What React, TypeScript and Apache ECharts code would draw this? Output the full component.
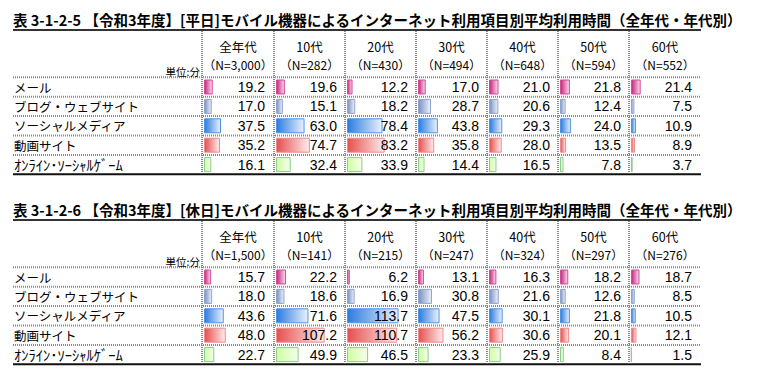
import React, { useEffect, useRef } from "react";
import * as echarts from "echarts";

// ---- data ----
const rowLabels = ["メール", "ブログ・ウェブサイト", "ソーシャルメディア", "動画サイト", "ｵﾝﾗｲﾝ･ｿｰｼｬﾙｹﾞｰﾑ"];
const ageGroups = ["全年代", "10代", "20代", "30代", "40代", "50代", "60代"];
const weekdayN = ["3,000", "282", "430", "494", "648", "594", "552"];
const holidayN = ["1,500", "141", "215", "247", "324", "297", "276"];

const weekdayMail = [19.2, 19.6, 12.2, 17.0, 21.0, 21.8, 21.4];
const weekdayBlog = [17.0, 15.1, 18.2, 28.7, 20.6, 12.4, 7.5];
const weekdaySocial = [37.5, 63.0, 78.4, 43.8, 29.3, 24.0, 10.9];
const weekdayVideo = [35.2, 74.7, 83.2, 35.8, 28.0, 13.5, 8.9];
const weekdayGame = [16.1, 32.4, 33.9, 14.4, 16.5, 7.8, 3.7];

const holidayMail = [15.7, 22.2, 6.2, 13.1, 16.3, 18.2, 18.7];
const holidayBlog = [18.0, 18.6, 16.9, 30.8, 21.6, 12.6, 8.5];
const holidaySocial = [43.6, 71.6, 113.7, 47.5, 30.1, 21.8, 10.5];
const holidayVideo = [48.0, 107.2, 110.7, 56.2, 30.6, 20.1, 12.1];
const holidayGame = [22.7, 49.9, 46.5, 23.3, 25.9, 8.4, 1.5];

const titles = [
  "表 3-1-2-5 【令和3年度】[平日]モバイル機器によるインターネット利用項目別平均利用時間（全年代・年代別）",
  "表 3-1-2-6 【令和3年度】[休日]モバイル機器によるインターネット利用項目別平均利用時間（全年代・年代別）",
];
const unitLabel = "単位:分";

// ---- layout / style ----
const COL_X = [202, 274, 345, 416, 487, 558, 629, 701];
const TABLE_Y = [0, 190];
const LEFT_X = 13;
const HEADER_BOTTOM = 77.3;
const ROW_H = 19.4;
const AXIS_MAX = 150;
const JP = "'Noto Sans CJK JP', 'Noto Sans', sans-serif";
const NUM = "'Liberation Sans', Arial, sans-serif";

const barStyles = [
  { dark: "#C8237F", light: "#F9DDEC", border: "#D24C9A" },
  { dark: "#7A90C2", light: "#EEF2FA", border: "#8FA4CF" },
  { dark: "#2B7BE0", light: "#EAF2FC", border: "#4C94E8" },
  { dark: "#E64F4F", light: "#FDEDED", border: "#F08A8A" },
  { dark: "#CFFFA0", light: "#F6FFEE", border: "#8ACD8A" },
];

export default function App() {
  const ref = useRef<HTMLDivElement>(null);
  useEffect(() => {
    if (!ref.current) return;
    const chart = echarts.init(ref.current, null, { renderer: "svg" });
    const tables = [
      [weekdayMail, weekdayBlog, weekdaySocial, weekdayVideo, weekdayGame],
      [holidayMail, holidayBlog, holidaySocial, holidayVideo, holidayGame],
    ];
    const nLists = [weekdayN, holidayN];

    const grid: any[] = [];
    const xAxis: any[] = [];
    const yAxis: any[] = [];
    const series: any[] = [];
    const graphic: any[] = [];

    tables.forEach((rows, t) => {
      const oy = TABLE_Y[t];
      graphic.push({
        type: "text",
        x: LEFT_X,
        y: oy + 19,
        style: {
          text: titles[t],
          font: `bold 14.5px ${JP}`,
          fill: "#000",
          verticalAlign: "middle",
        },
      });
      graphic.push({
        type: "line",
        shape: { x1: LEFT_X, y1: oy + 30, x2: COL_X[7], y2: oy + 30 },
        style: { stroke: "#333", lineWidth: 2 },
      });
      for (let r = 0; r < 5; r++) {
        const y = oy + HEADER_BOTTOM + r * ROW_H;
        graphic.push({
          type: "line",
          shape: { x1: LEFT_X, y1: y, x2: COL_X[7], y2: y },
          style: { stroke: "#8a8a8a", lineWidth: 2, lineDash: [1, 1] },
        });
      }
      const yb = oy + HEADER_BOTTOM + 5 * ROW_H;
      graphic.push({
        type: "line",
        shape: { x1: LEFT_X, y1: yb, x2: COL_X[7], y2: yb },
        style: { stroke: "#111", lineWidth: 2 },
      });
      for (let c = 0; c < 7; c++) {
        graphic.push({
          type: "line",
          shape: { x1: COL_X[c], y1: oy + 31, x2: COL_X[c], y2: yb - 1 },
          style: { stroke: "#8a8a8a", lineWidth: 2, lineDash: [1, 1] },
        });
      }
      graphic.push({
        type: "text",
        x: COL_X[0] - 2,
        y: oy + 71,
        style: {
          text: unitLabel,
          font: `10.5px ${JP}`,
          lineHeight: 11,
          fill: "#000",
          align: "right",
          verticalAlign: "middle",
        },
      });
      for (let c = 0; c < 7; c++) {
        const cx = (COL_X[c] + COL_X[c + 1]) / 2;
        graphic.push({
          type: "text",
          x: cx,
          y: oy + 46.5,
          style: {
            text: ageGroups[c],
            font: `12.5px ${JP}`,
            lineHeight: 12.5,
            fill: "#000",
            align: "center",
            verticalAlign: "middle",
          },
        });
        graphic.push({
          type: "text",
          x: cx,
          y: oy + 64.6,
          style: {
            text: `（N=${nLists[t][c]}）`,
            font: `12px ${JP}`,
            lineHeight: 12,
            fill: "#000",
            align: "center",
            verticalAlign: "middle",
          },
        });
      }
      rowLabels.forEach((lab, r) => {
        graphic.push({
          type: "text",
          x: LEFT_X + 1,
          y: oy + HEADER_BOTTOM + (r + 0.5) * ROW_H,
          style: {
            text: lab,
            font: r === 4 ? `14.5px ${JP}` : `12.5px ${JP}`,
            fill: "#000",
            verticalAlign: "middle",
          },
        });
      });

      for (let c = 0; c < 7; c++) {
        const gi = t * 7 + c;
        grid.push({
          left: COL_X[c] + 2,
          top: oy + HEADER_BOTTOM,
          width: 68,
          height: 5 * ROW_H,
          containLabel: false,
        });
        xAxis.push({ gridIndex: gi, type: "value", min: 0, max: AXIS_MAX, show: false });
        yAxis.push({
          gridIndex: gi,
          type: "category",
          data: rowLabels,
          inverse: true,
          show: false,
        });
        const vals = rows.map((arr) => arr[c]);
        series.push({
          type: "bar",
          xAxisIndex: gi,
          yAxisIndex: gi,
          barWidth: 15,
          silent: true,
          data: vals.map((v, r) => ({
            value: v,
            itemStyle: {
              color: new echarts.graphic.LinearGradient(0, 0, 1, 0, [
                { offset: 0, color: barStyles[r].dark },
                { offset: 1, color: barStyles[r].light },
              ]),
              borderColor: barStyles[r].border,
              borderWidth: 1,
            },
          })),
        });
        series.push({
          type: "bar",
          xAxisIndex: gi,
          yAxisIndex: gi,
          barWidth: 15,
          barGap: "-100%",
          silent: true,
          itemStyle: { color: "transparent" },
          data: vals.map(() => AXIS_MAX),
          label: {
            show: true,
            position: "insideRight",
            distance: 7,
            formatter: (p: any) => vals[p.dataIndex].toFixed(1),
            fontSize: 14,
            fontFamily: NUM,
            color: "#000",
          },
          z: 3,
        });
      }
    });

    chart.setOption({
      animation: false,
      backgroundColor: "#fff",
      grid,
      xAxis,
      yAxis,
      series,
      graphic,
    });
    return () => chart.dispose();
  }, []);

  return (
    <div
      ref={ref}
      style={{ position: "fixed", left: 0, top: 0, width: 758, height: 380, background: "#fff" }}
    />
  );
}
